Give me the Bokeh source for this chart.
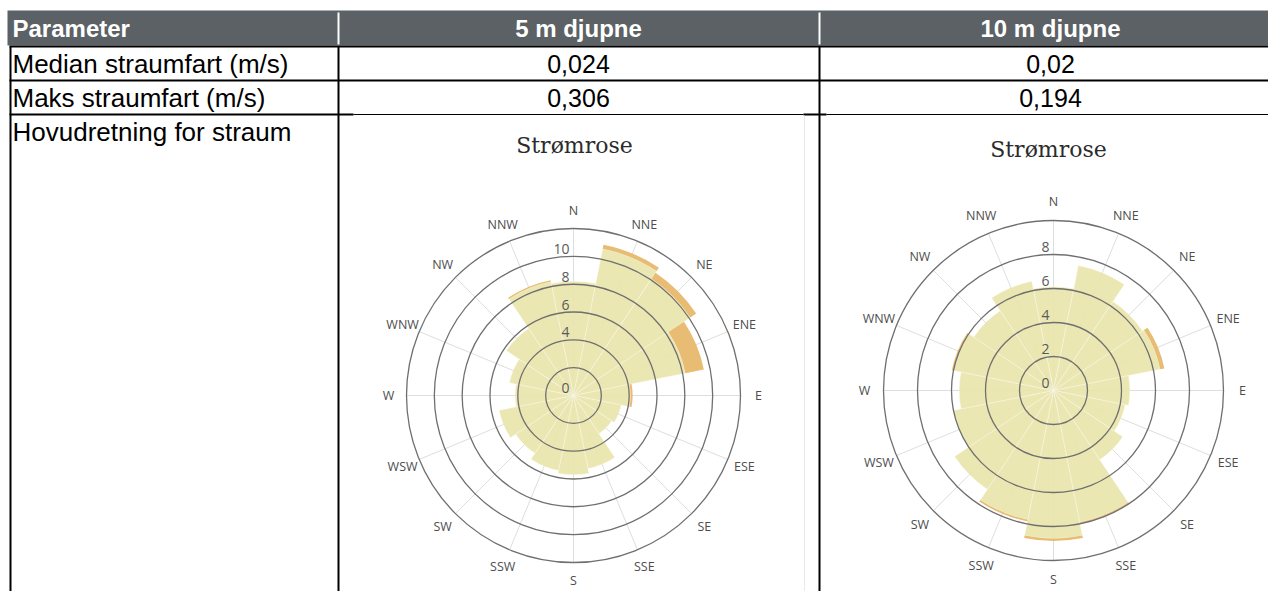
import numpy as np
from bokeh.plotting import figure
from bokeh.models import Range1d, ColumnDataSource
from bokeh.core.properties import value
from bokeh.embed import file_html
from bokeh.resources import INLINE

# ---------------- data ----------------
directions = ["N", "NNE", "NE", "ENE", "E", "ESE", "SE", "SSE",
              "S", "SSW", "SW", "WSW", "W", "WNW", "NW", "NNW"]

# frequency (%) per direction, lowest speed bin (pale) and next bin (orange)
rose5_bin1 = [8.2, 10.75, 10.1, 8.2, 4.1, 3.5, 3.3, 5.35, 5.7, 5.5, 5.0, 5.45, 4.2, 4.7, 5.8, 8.35]
rose5_bin2 = [0.0, 0.3, 0.5, 1.35, 0.15, 0.0, 0.0, 0.0, 0.0, 0.0, 0.0, 0.0, 0.0, 0.0, 0.0, 0.1]
rose10_bin1 = [6.1, 7.5, 6.3, 6.4, 4.5, 4.3, 4.9, 7.9, 8.7, 7.75, 7.0, 6.0, 5.55, 6.0, 5.65, 6.55]
rose10_bin2 = [0.0, 0.0, 0.0, 0.25, 0.0, 0.0, 0.0, 0.1, 0.15, 0.1, 0.0, 0.0, 0.0, 0.1, 0.0, 0.0]

rose5_grid = [2, 4, 6, 8, 10, 12]
rose5_ticks = [0, 4, 6, 8, 10]
rose10_grid = [2, 4, 6, 8, 10]
rose10_ticks = [0, 2, 4, 6, 8]

header_labels = ["Parameter", "5 m djupne", "10 m djupne"]
row_labels = ["Median straumfart (m/s)", "Maks straumfart (m/s)", "Hovudretning for straum"]
median_speed = ["0,024", "0,02"]
max_speed = ["0,306", "0,194"]
rose_title = "Strømrose"

# ---------------- layout / style ----------------
W, H = 1268, 591


def Y(ys):
    return H - ys


p = figure(width=W, height=H, output_backend="svg", toolbar_location=None,
           x_range=Range1d(0, W), y_range=Range1d(0, H),
           x_axis_location=None, y_axis_location=None, min_border=0)
p.grid.visible = False
p.outline_line_color = None
p.background_fill_color = "white"
p.border_fill_color = "white"

SANS = value("Liberation Sans")
HEAD_COLOR = "#5b6165"
col_x = [10, 338, 819]
XR = W

# header background
p.quad(left=[7], right=[XR], top=[Y(10)], bottom=[Y(45)], fill_color=HEAD_COLOR, line_color=None)
# white separators in header
p.segment(x0=col_x[1:], y0=[Y(12)] * 2, x1=col_x[1:], y1=[Y(44)] * 2,
          line_color="white", line_width=2)
# black horizontal rules
p.segment(x0=[9, 9], y0=[Y(46), Y(80)], x1=[XR, XR], y1=[Y(46), Y(80)], line_color="black", line_width=2)
p.segment(x0=[9, 803], y0=[Y(114)] * 2, x1=[353, 826], y1=[Y(114)] * 2, line_color="black", line_width=2)
p.segment(x0=[353, 826], y0=[Y(114)] * 2, x1=[803, XR], y1=[Y(114)] * 2, line_color="black", line_width=1)
# black verticals
p.segment(x0=col_x, y0=[Y(46)] * 3, x1=col_x, y1=[Y(H)] * 3, line_color="black", line_width=2)
# faint border of the first rose picture
p.segment(x0=[804], y0=[Y(115)], x1=[804], y1=[Y(H)], line_color="#e9e9e9", line_width=1)

# header text
p.text(x=[12], y=[Y(28)], text=[header_labels[0]], text_font=SANS, text_font_style="bold",
       text_font_size="24px", text_color="white", text_align="left", text_baseline="middle")
p.text(x=[578, 1050], y=[Y(28)] * 2, text=header_labels[1:], text_font=SANS, text_font_style="bold",
       text_font_size="24px", text_color="white", text_align="center", text_baseline="middle")
# row labels
p.text(x=[12, 12, 12], y=[Y(63), Y(97), Y(131)], text=row_labels, text_font=SANS,
       text_font_size="26px", text_color="black", text_align="left", text_baseline="middle")
p.text(x=[578, 1050], y=[Y(63)] * 2, text=median_speed, text_font=SANS,
       text_font_size="25px", text_color="black", text_align="center", text_baseline="middle")
p.text(x=[578, 1050], y=[Y(97)] * 2, text=max_speed, text_font=SANS,
       text_font_size="25px", text_color="black", text_align="center", text_baseline="middle")

PALE = "#e9e5ab"
ORANGE = "#e8b86c"
compass = np.arange(len(directions)) * 360.0 / len(directions)
half = 180.0 / len(directions)


def draw_rose(cx, cy_s, scale, bin1, bin2, grid, ticks, title_x, title_ys, lab_off):
    cy = Y(cy_s)
    R = grid[-1] * scale
    rad = np.deg2rad(90 - compass)
    # radial grid lines
    p.segment(x0=[cx] * len(compass), y0=[cy] * len(compass),
              x1=list(cx + R * np.cos(rad)), y1=list(cy + R * np.sin(rad)),
              line_color="#dedede", line_width=1)
    b1 = np.array(bin1)
    b2 = np.array(bin2)
    start = np.deg2rad(90 - compass - half)
    end = np.deg2rad(90 - compass + half)
    src = ColumnDataSource(dict(start=start, end=end, r1=b1 * scale, r2=(b1 + b2) * scale))
    p.annular_wedge(x=cx, y=cy, inner_radius=0, outer_radius="r1", start_angle="start",
                    end_angle="end", source=src, fill_color=PALE, fill_alpha=0.92,
                    line_color="white", line_width=0.6, line_alpha=0.5)
    p.annular_wedge(x=cx, y=cy, inner_radius="r1", outer_radius="r2", start_angle="start",
                    end_angle="end", source=src, fill_color=ORANGE, fill_alpha=0.95,
                    line_color=None)
    # circular grid
    p.circle(x=[cx] * len(grid), y=[cy] * len(grid), radius=[g * scale for g in grid],
             fill_color=None, line_color="#6f6f6f", line_width=1.3)
    # radial tick labels
    p.text(x=[cx - 4] * len(ticks), y=[cy + t * scale + 7.5 for t in ticks],
           text=[str(t) for t in ticks], text_font=value("Open Sans"), text_font_size="14px",
           text_color="#5a5a5a", text_align="right", text_baseline="middle")
    # direction labels
    rl = R + lab_off
    p.text(x=list(cx + rl * np.cos(rad)), y=list(cy + rl * np.sin(rad)), text=directions,
           text_font=value("Open Sans"), text_font_size="12.5px", text_color="#4d4d4d",
           text_align="center", text_baseline="middle")
    # title
    p.text(x=[title_x], y=[Y(title_ys)], text=[rose_title], text_font=value("DejaVu Serif"),
           text_font_size="22px", text_color="#2b2b2b", text_align="center", text_baseline="middle")


draw_rose(573, 395, 167.0 / 12, rose5_bin1, rose5_bin2, rose5_grid, rose5_ticks, 574, 145, 18)
draw_rose(1053, 390, 170.0 / 10, rose10_bin1, rose10_bin2, rose10_grid, rose10_ticks, 1048, 149, 19)

open("out.html", "w").write(file_html(p, INLINE))
